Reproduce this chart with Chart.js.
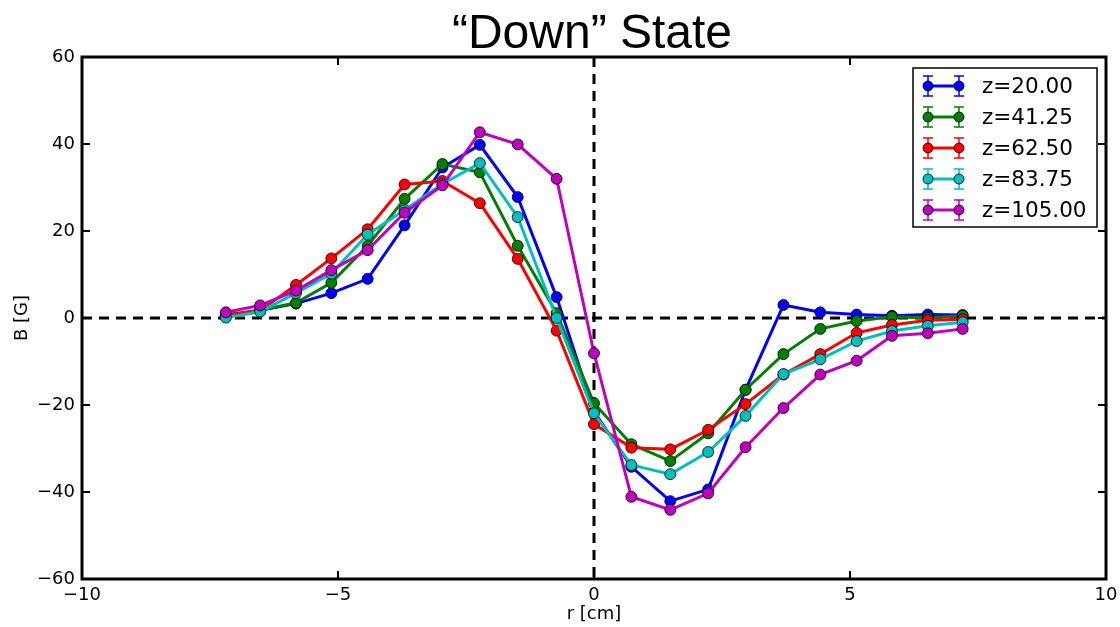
<!DOCTYPE html>
<html>
<head>
<meta charset="utf-8">
<script src="https://cdn.jsdelivr.net/npm/chart.js@4.4.1/dist/chart.umd.min.js"></script>
<style>
html,body{margin:0;padding:0;background:#fff;}
#wrap{width:1120px;height:627px;position:relative;}
</style>
</head>
<body>
<div id="wrap"><canvas id="chart"></canvas></div>
<script>
// probe positions r [cm]
const rPos = [-7.19, -6.52, -5.82, -5.13, -4.42, -3.70, -2.96, -2.23, -1.49, -0.73, 0,
              0.73, 1.49, 2.23, 2.96, 3.70, 4.42, 5.13, 5.82, 6.52, 7.20];
const seriesNames = ['z=20.00', 'z=41.25', 'z=62.50', 'z=83.75', 'z=105.00'];
const bz20  = [0.5, 1.8, 3.3, 5.7, 9.0, 21.3, 34.6, 39.8, 27.8, 4.8, -21.5, -34.2, -42.1, -39.4, -16.5, 3.0, 1.3, 0.8, 0.5, 0.8, 0.7];
const bz41  = [0.5, 1.8, 3.5, 8.1, 16.6, 27.4, 35.4, 33.5, 16.6, 1.1, -19.6, -29.0, -32.9, -26.5, -16.5, -8.3, -2.5, -0.7, 0.3, 0.0, 0.5];
const bz62  = [0.8, 1.7, 7.6, 13.7, 20.4, 30.7, 31.5, 26.4, 13.6, -2.9, -24.4, -29.8, -30.2, -25.7, -19.8, -13.0, -8.3, -3.4, -1.6, -0.5, -0.3];
const bz84  = [0.1, 1.45, 5.7, 10.2, 19.2, 24.8, 30.8, 35.6, 23.2, 0.0, -21.9, -33.8, -35.9, -30.8, -22.5, -12.9, -9.5, -5.3, -3.0, -1.8, -1.0];
const bz105 = [1.3, 2.9, 6.3, 11.0, 15.6, 24.2, 30.5, 42.7, 39.9, 32.0, -8.1, -41.1, -44.1, -40.3, -29.7, -20.7, -13.0, -9.8, -4.1, -3.5, -2.5];
const xTicks = [-10, -5, 0, 5, 10];
const yTicks = [-60, -40, -20, 0, 20, 40, 60];
const titleText = '\u201cDown\u201d State';

const colors = ['#0000ff', '#008000', '#ff0000', '#00bfbf', '#bf00bf'];
const allSeries = [bz20, bz41, bz62, bz84, bz105];
const tickFont = {family: 'DejaVu Sans', size: 18};
const fmt = v => v < 0 ? '\u2212' + Math.abs(v) : String(v);

const frame = {
  id: 'frame',
  beforeDatasetsDraw(chart) {
    const {ctx, chartArea: a, scales: {x, y}} = chart;
    ctx.save();
    ctx.strokeStyle = '#000';
    ctx.lineWidth = 3;
    ctx.setLineDash([10, 7]);
    const x0 = x.getPixelForValue(0), y0 = y.getPixelForValue(0);
    ctx.beginPath();
    ctx.moveTo(a.left, y0); ctx.lineTo(a.right, y0);
    ctx.moveTo(x0, a.top); ctx.lineTo(x0, a.bottom);
    ctx.stroke();
    ctx.restore();
  },
  afterDraw(chart) {
    const {ctx, chartArea: a, scales: {x, y}} = chart;
    ctx.save();
    // title
    ctx.fillStyle = '#000';
    ctx.font = '48px "Liberation Sans"';
    ctx.textAlign = 'center';
    ctx.textBaseline = 'alphabetic';
    ctx.fillText(titleText, (a.left + a.right) / 2 - 2, 48);

    ctx.strokeStyle = '#000';
    // ticks inside, all four sides
    ctx.lineWidth = 2;
    ctx.beginPath();
    xTicks.forEach(v => {
      const p = Math.round(x.getPixelForValue(v));
      ctx.moveTo(p, a.bottom); ctx.lineTo(p, a.bottom - 8);
      ctx.moveTo(p, a.top); ctx.lineTo(p, a.top + 8);
    });
    yTicks.forEach(v => {
      const p = Math.round(y.getPixelForValue(v));
      ctx.moveTo(a.left, p); ctx.lineTo(a.left + 8, p);
      ctx.moveTo(a.right, p); ctx.lineTo(a.right - 8, p);
    });
    ctx.stroke();
    ctx.lineWidth = 3;
    ctx.strokeRect(a.left, a.top, a.right - a.left, a.bottom - a.top);

    // legend with errorbar glyphs
    const bx = 913, by = 68, bw = 184, bh = 159;
    ctx.fillStyle = '#fff';
    ctx.fillRect(bx, by, bw, bh);
    ctx.lineWidth = 1.5;
    ctx.strokeRect(bx, by, bw, bh);
    seriesNames.forEach((name, i) => {
      const cy = 86 + i * 31, c = colors[i];
      ctx.strokeStyle = c;
      ctx.lineWidth = 3;
      ctx.beginPath(); ctx.moveTo(928, cy); ctx.lineTo(959, cy); ctx.stroke();
      ctx.lineWidth = 1.5;
      [928, 959].forEach(px => {
        ctx.beginPath();
        ctx.moveTo(px, cy - 10); ctx.lineTo(px, cy + 10);
        ctx.moveTo(px - 5, cy - 10); ctx.lineTo(px + 5, cy - 10);
        ctx.moveTo(px - 5, cy + 10); ctx.lineTo(px + 5, cy + 10);
        ctx.stroke();
      });
      [928, 959].forEach(px => {
        ctx.beginPath();
        ctx.arc(px, cy, 5, 0, Math.PI * 2);
        ctx.fillStyle = c; ctx.fill();
        ctx.strokeStyle = '#000'; ctx.lineWidth = 0.8; ctx.stroke();
        ctx.strokeStyle = c;
      });
      ctx.fillStyle = '#000';
      ctx.font = '21.5px "DejaVu Sans"';
      ctx.textBaseline = 'middle';
      ctx.textAlign = 'left';
      ctx.fillText(name, 982, cy + 1);
    });
    ctx.restore();
  }
};

const datasets = allSeries.map((vals, i) => ({
  label: seriesNames[i],
  data: vals.map((v, k) => ({x: rPos[k], y: v})),
  borderColor: colors[i],
  backgroundColor: colors[i],
  borderWidth: 3,
  pointRadius: 5.5,
  pointBorderColor: '#000',
  pointBorderWidth: 0.8,
  pointBackgroundColor: colors[i],
  tension: 0,
  order: 5 - i
}));

new Chart(document.getElementById('chart'), {
  type: 'line',
  data: {datasets},
  options: {
    responsive: true,
    maintainAspectRatio: false,
    animation: false,
    layout: {padding: {left: 0, top: 57, right: 14, bottom: 0}},
    plugins: {
      legend: {display: false},
      tooltip: {enabled: false},
      title: {display: false}
    },
    scales: {
      x: {
        type: 'linear', min: -10, max: 10,
        afterBuildTicks: s => { s.ticks = xTicks.map(v => ({value: v})); },
        afterFit: s => { s.height = 48; s.paddingLeft = 0; s.paddingRight = 0; },
        grid: {display: false, drawTicks: false, tickLength: 0},
        border: {display: false},
        ticks: {color: '#000', font: tickFont, padding: 6, maxRotation: 0, callback: fmt},
        title: {display: true, text: 'r [cm]', color: '#000', font: tickFont, padding: {top: 0, bottom: 2}}
      },
      y: {
        type: 'linear', min: -60, max: 60,
        afterBuildTicks: s => { s.ticks = yTicks.map(v => ({value: v})); },
        afterFit: s => { s.width = 82; s.paddingTop = 0; s.paddingBottom = 0; },
        grid: {display: false, drawTicks: false, tickLength: 0},
        border: {display: false},
        ticks: {color: '#000', font: tickFont, padding: 7, callback: fmt},
        title: {display: true, text: 'B [G]', color: '#000', font: tickFont, padding: {top: 12, bottom: 0}}
      }
    }
  },
  plugins: [frame]
});
</script>
</body>
</html>
